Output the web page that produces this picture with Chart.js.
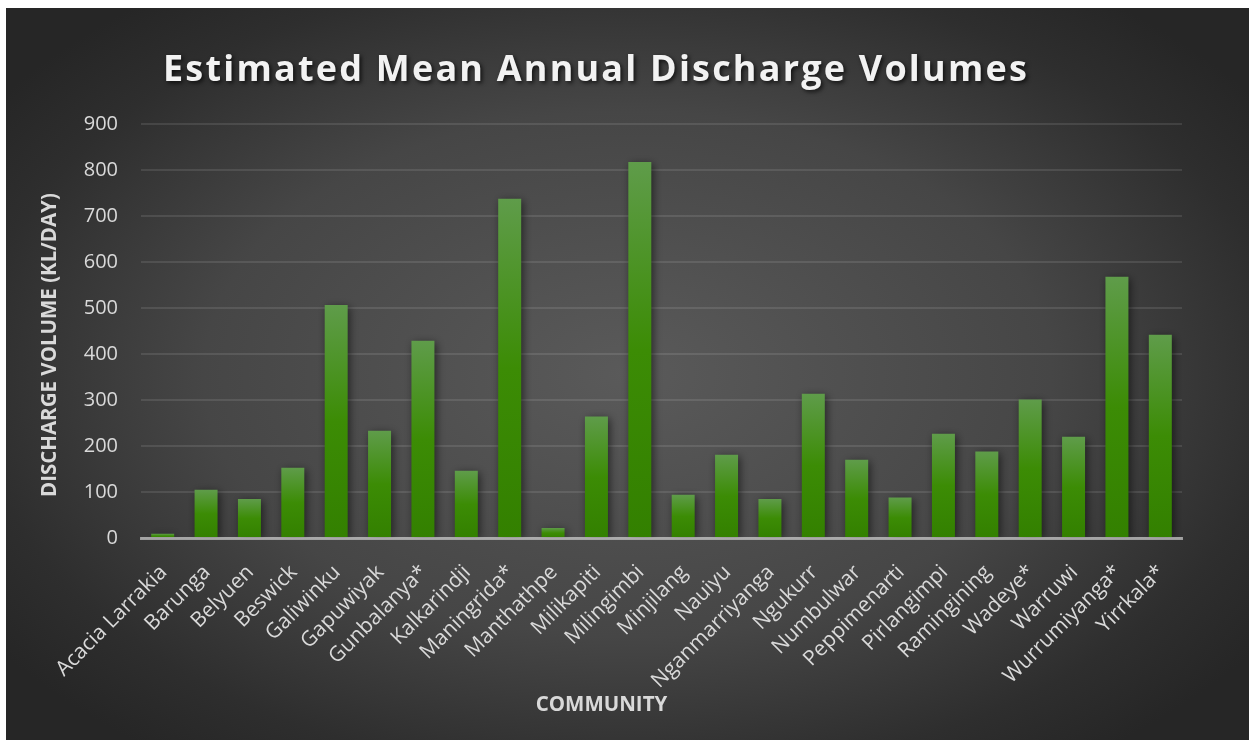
<!DOCTYPE html>
<html><head><meta charset="utf-8">
<script src="https://cdn.jsdelivr.net/npm/chart.js@4.4.0/dist/chart.umd.min.js"></script>
<style>
html,body{margin:0;padding:0;background:#ffffff;overflow:hidden;}
#wrap{position:absolute;left:6px;top:8px;width:1243px;height:732px;}
</style></head><body>
<div id="wrap"><canvas id="c" width="1243" height="732"></canvas></div>
<script>
const categories = ["Acacia Larrakia","Barunga","Belyuen","Beswick","Galiwinku","Gapuwiyak","Gunbalanya*","Kalkarindji","Maningrida*","Manthathpe","Milikapiti","Milingimbi","Minjilang","Nauiyu","Nganmarriyanga","Ngukurr","Numbulwar","Peppimenarti","Pirlangimpi","Ramingining","Wadeye*","Warruwi","Wurrumiyanga*","Yirrkala*"];
const dischargeValues = [9,105,85,153,507,233,429,146,738,22,264,818,94,181,85,314,170,88,227,188,301,220,568,442];
const yTickValues = [0,100,200,300,400,500,600,700,800,900];
const chartTitle = "Estimated Mean Annual Discharge Volumes";
const xAxisTitle = "COMMUNITY";
const yAxisTitle = "DISCHARGE VOLUME (KL/DAY)";

const bgPlugin = {
  id: 'bg',
  beforeDraw(chart) {
    const ctx = chart.ctx, w = chart.width, h = chart.height;
    ctx.save();
    ctx.translate(w * 0.5, h * 0.5);
    ctx.scale(1, 0.62);
    const r = w * 0.62;
    const g = ctx.createRadialGradient(0, 0, 0, 0, 0, r);
    g.addColorStop(0, '#5a5a5a');
    g.addColorStop(0.55, '#464646');
    g.addColorStop(0.85, '#2e2e2e');
    g.addColorStop(1, '#262626');
    ctx.fillStyle = g;
    ctx.fillRect(-w, -h * 2, w * 2, h * 4);
    ctx.restore();
  }
};

function wrapDraw(obj, key, fn) {
  if (!obj || obj['_wrapped_' + key]) return;
  const orig = obj[key].bind(obj);
  obj[key] = function (...args) { fn(() => orig(...args)); };
  obj['_wrapped_' + key] = true;
}

const textStyler = {
  id: 'textStyler',
  beforeDraw(chart) {
    const ctx = chart.ctx;
    wrapDraw(chart.titleBlock, 'draw', (run) => {
      ctx.save();
      ctx.letterSpacing = '2.2px';
      ctx.shadowColor = 'rgba(0,0,0,0.7)';
      ctx.shadowBlur = 4;
      ctx.shadowOffsetX = 2;
      ctx.shadowOffsetY = 2;
      ctx.translate(2, 0);
      run();
      ctx.restore();
    });
    wrapDraw(chart.scales.x, 'drawTitle', (run) => {
      ctx.save(); ctx.translate(-60, 0); run(); ctx.restore();
    });
    wrapDraw(chart.scales.y, 'drawTitle', (run) => {
      ctx.save(); ctx.translate(0, 14); run(); ctx.restore();
    });
  }
};

const barShadow = {
  id: 'barShadow',
  beforeDatasetsDraw(chart) {
    const ctx = chart.ctx;
    ctx.save();
    ctx.shadowColor = 'rgba(0,0,0,0.55)';
    ctx.shadowBlur = 8;
    ctx.shadowOffsetX = 2;
    ctx.shadowOffsetY = 2;
  },
  afterDatasetsDraw(chart) {
    chart.ctx.restore();
  }
};

function barGradient(context) {
  const chart = context.chart;
  const y = chart.scales && chart.scales.y;
  if (!y || context.raw == null) return '#3a8a00';
  const top = y.getPixelForValue(context.raw);
  const bottom = y.getPixelForValue(0);
  if (!isFinite(top) || !isFinite(bottom) || Math.abs(bottom - top) < 1) return '#5e9a48';
  const g = chart.ctx.createLinearGradient(0, top, 0, bottom);
  g.addColorStop(0, '#5f9c4a');
  g.addColorStop(0.5, '#3c8c05');
  g.addColorStop(1, '#338000');
  return g;
}

new Chart(document.getElementById('c'), {
  type: 'bar',
  data: {
    labels: categories,
    datasets: [{
      label: 'Discharge volume',
      data: dischargeValues,
      backgroundColor: barGradient,
      borderWidth: 0,
      categoryPercentage: 1,
      barPercentage: 0.53
    }]
  },
  options: {
    responsive: false,
    animation: false,
    layout: { padding: { left: 0, right: 67, top: 0, bottom: 0 } },
    plugins: {
      legend: { display: false },
      tooltip: { enabled: false },
      title: {
        display: true,
        text: chartTitle,
        color: '#f2f2f2',
        font: { family: '"Open Sans", sans-serif', size: 36, weight: 'bold' },
        padding: { top: 41, bottom: 32 }
      }
    },
    scales: {
      x: {
        grid: { display: false },
        border: { display: true, color: 'rgba(220,220,220,0.62)', width: 3, z: 1 },
        ticks: {
          color: '#d9d9d9',
          font: { family: '"Open Sans", sans-serif', size: 21 },
          maxRotation: 45, minRotation: 45,
          autoSkip: false,
          padding: 14,
          labelOffset: 1
        },
        title: {
          display: true, text: xAxisTitle, color: '#d9d9d9',
          font: { family: '"Open Sans", sans-serif', size: 20.5, weight: 'bold' },
          padding: { top: 0, bottom: 23 }
        },
        afterFit(scale) { scale.height = 202; }
      },
      y: {
        min: 0, max: 900,
        afterBuildTicks(scale) { scale.ticks = yTickValues.map(v => ({ value: v })); },
        grid: { color: 'rgba(255,255,255,0.1)', lineWidth: 2, drawTicks: false },
        border: { display: false },
        ticks: {
          color: '#d9d9d9',
          font: { family: '"Open Sans", sans-serif', size: 20 },
          padding: 23
        },
        title: {
          display: true, text: yAxisTitle, color: '#d9d9d9',
          font: { family: '"Open Sans", sans-serif', size: 20.5, weight: 'bold' },
          padding: { top: 32, bottom: 0 }
        },
        afterFit(scale) { scale.width = 135; }
      }
    }
  },
  plugins: [bgPlugin, textStyler, barShadow]
});
</script>
</body></html>
